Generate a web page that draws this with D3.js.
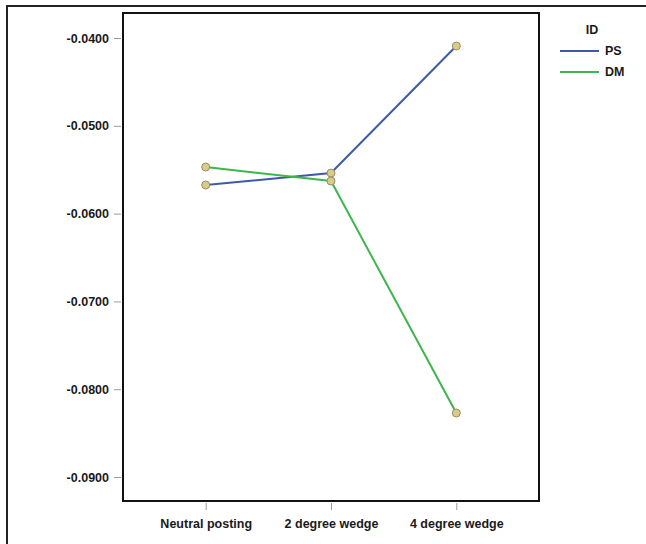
<!DOCTYPE html>
<html>
<head>
    <meta charset="utf-8">
    <style>
        body { margin: 0; background: #fff; }
        text { font-family: "Liberation Sans", Arial, sans-serif; font-weight: bold; fill: #1a1a1a; }
    </style>
</head>
<body>
    <div id="chart"></div>
    <script src="https://d3js.org/d3.v7.min.js"></script>
    <script>
        // chart data
        const categories = ["Neutral posting", "2 degree wedge", "4 degree wedge"];
        const psValues = [-0.05674, -0.05538, -0.04091];
        const dmValues = [-0.05469, -0.05629, -0.08271];
        const yTicks = [-0.04, -0.05, -0.06, -0.07, -0.08, -0.09];
        const seriesNames = ["PS", "DM"];
        const seriesColors = ["#3d5aa8", "#3fb54e"];

        const width = 646, height = 544;
        const plot = { left: 123, top: 13, right: 539, bottom: 501 };

        const svg = d3.select("#chart").append("svg")
            .attr("width", width)
            .attr("height", height);

        // outer frame
        svg.append("rect")
            .attr("x", 7).attr("y", 6)
            .attr("width", width).attr("height", height)
            .attr("fill", "none")
            .attr("stroke", "#222")
            .attr("stroke-width", 2);

        const x = d3.scalePoint()
            .domain(categories)
            .range([plot.left, plot.right])
            .padding(0.66);

        const y = d3.scaleLinear()
            .domain([-0.09273, -0.03715])
            .range([plot.bottom, plot.top]);

        const fmt = d => d3.format(".4f")(d).replace("\u2212", "-");

        // y axis
        const yAxis = svg.append("g")
            .attr("transform", `translate(${plot.left - 2},0)`)
            .call(d3.axisLeft(y).tickValues(yTicks).tickFormat(fmt).tickSize(7).tickPadding(5));
        yAxis.select(".domain").remove();
        yAxis.selectAll("line").attr("stroke", "#999");
        yAxis.selectAll("text").style("font-size", "12.5px").attr("fill", "#1a1a1a");

        // x axis
        const xAxis = svg.append("g")
            .attr("transform", `translate(0,${plot.bottom + 2})`)
            .call(d3.axisBottom(x).tickSize(7).tickPadding(9));
        xAxis.select(".domain").remove();
        xAxis.selectAll("line").attr("stroke", "#999");
        xAxis.selectAll("text").style("font-size", "12.5px").attr("fill", "#1a1a1a");

        // plot box
        svg.append("rect")
            .attr("x", plot.left).attr("y", plot.top)
            .attr("width", plot.right - plot.left)
            .attr("height", plot.bottom - plot.top)
            .attr("fill", "none")
            .attr("stroke", "#111")
            .attr("stroke-width", 2);

        const series = [psValues, dmValues];
        const line = d3.line()
            .x((d, i) => x(categories[i]))
            .y(d => y(d));

        series.forEach((vals, k) => {
            svg.append("path")
                .datum(vals)
                .attr("d", line)
                .attr("fill", "none")
                .attr("stroke", seriesColors[k])
                .attr("stroke-width", 2);
        });

        series.forEach(vals => {
            svg.append("g").selectAll("circle")
                .data(vals)
                .join("circle")
                .attr("cx", (d, i) => x(categories[i]))
                .attr("cy", d => y(d))
                .attr("r", 4)
                .attr("fill", "#d8cc8c")
                .attr("stroke", "#9c8f5c")
                .attr("stroke-width", 1);
        });

        // legend
        const legend = svg.append("g");
        legend.append("text")
            .attr("x", 592).attr("y", 34)
            .attr("text-anchor", "middle")
            .style("font-size", "12.5px")
            .text("ID");
        seriesNames.forEach((name, i) => {
            const ly = 51 + i * 21;
            legend.append("line")
                .attr("x1", 560).attr("x2", 599)
                .attr("y1", ly).attr("y2", ly)
                .attr("stroke", seriesColors[i])
                .attr("stroke-width", 2);
            legend.append("text")
                .attr("x", 605).attr("y", ly + 4)
                .style("font-size", "12.5px")
                .text(name);
        });
    </script>
</body>
</html>
